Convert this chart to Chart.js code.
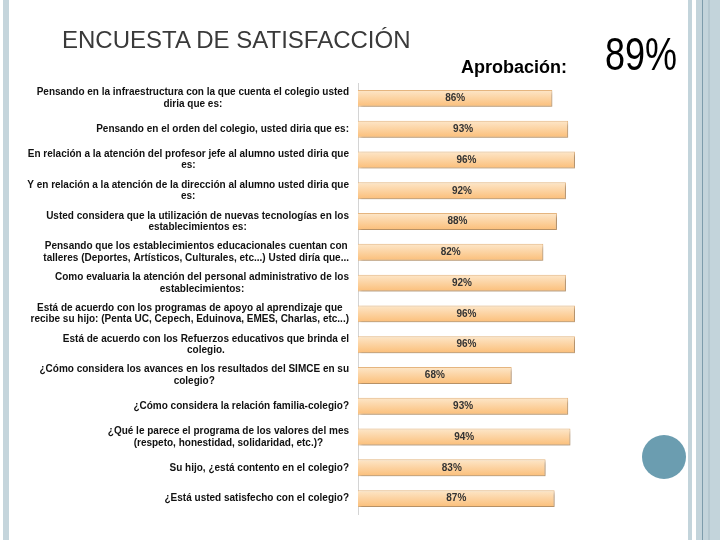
<!DOCTYPE html>
<html>
<head>
<meta charset="utf-8">
<script src="https://cdn.jsdelivr.net/npm/chart.js@4"></script>
<style>
  html, body { margin:0; padding:0; background:#fff; }
  #wrap { position:relative; width:720px; height:540px; overflow:hidden; background:#fff; }
  #c { position:absolute; left:0; top:0; }
  .deco { position:absolute; top:0; height:540px; }
  .txt { position:absolute; white-space:nowrap; font-family:"Liberation Sans", Arial, sans-serif; }
</style>
</head>
<body>
<div id="wrap">
  <div class="deco" style="left:3px;width:6px;background:#c5d5dc;"></div>
  <div class="deco" style="left:688px;width:4px;background:#c3d4db;"></div>
  <div class="deco" style="left:696px;width:24px;background:#c3d4db;"></div>
  <div class="deco" style="left:702px;width:1px;background:#7d9cab;"></div>
  <div class="deco" style="left:708px;width:2px;background:#b5c8d0;"></div>
  <div style="position:absolute;left:642px;top:435px;width:44px;height:44px;border-radius:50%;background:#6b9db0;"></div>
  <canvas id="c" width="720" height="540"></canvas>
  <div class="txt" id="title" style="left:62px;top:26px;font-size:24px;color:#3a3a3a;">ENCUESTA DE SATISFACCIÓN</div>
  <div class="txt" id="aprob" style="left:461px;top:57px;font-size:18px;font-weight:bold;color:#000;">Aprobación:</div>
  <div class="txt" id="total" style="left:605px;top:27px;font-size:36px;color:#000;transform:scaleY(1.3);transform-origin:0 0;">89%</div>
</div>
<script>
const categories = [
  ["Pensando en la infraestructura con la que cuenta el colegio usted", "diria que es:"],
  ["Pensando en el orden del colegio, usted diria que es:"],
  ["En relación a la atención del profesor jefe al alumno usted diria que", "es:"],
  ["Y en relación a la atención de la dirección al alumno usted diria que", "es:"],
  ["Usted considera que la utilización de nuevas tecnologías en los", "establecimientos es:"],
  ["Pensando que los establecimientos educacionales cuentan con", "talleres (Deportes, Artísticos, Culturales, etc...) Usted diría que..."],
  ["Como evaluaria la atención del personal administrativo de los", "establecimientos:"],
  ["Está de acuerdo con los programas de apoyo al aprendizaje que", "recibe su hijo: (Penta UC, Cepech, Eduinova, EMES, Charlas, etc...)"],
  ["Está de acuerdo con los Refuerzos educativos que brinda el", "colegio."],
  ["¿Cómo considera los avances en los resultados del SIMCE en su", "colegio?"],
  ["¿Cómo considera la relación familia-colegio?"],
  ["¿Qué le parece el programa de los valores del mes", "(respeto, honestidad, solidaridad, etc.)?"],
  ["Su hijo, ¿está contento en el colegio?"],
  ["¿Está usted satisfecho con el colegio?"]
];
const approval = [86, 93, 96, 92, 88, 82, 92, 96, 96, 68, 93, 94, 83, 87];
const axisMax = 100;

const FONT = '"Liberation Sans", Arial, sans-serif';

const labelPlugin = {
  id: 'labels',
  afterDraw(chart) {
    const ctx = chart.ctx;
    const ys = chart.scales.y;
    const xs = chart.scales.x;
    const right = ys.right - 9;
    ctx.save();
    ctx.font = 'bold 10px ' + FONT;
    ctx.fillStyle = '#111';
    ctx.textBaseline = 'middle';
    ctx.textAlign = 'center';
    categories.forEach((lines, i) => {
      const cy = ys.getPixelForTick(i);
      const w = Math.max(...lines.map(l => ctx.measureText(l).width));
      const cx = right - w / 2;
      const lh = 11.5;
      const y0 = cy - (lines.length - 1) * lh / 2;
      lines.forEach((l, k) => ctx.fillText(l, cx, y0 + k * lh));
    });
    // value labels
    ctx.font = 'bold 10px ' + FONT;
    ctx.fillStyle = '#333';
    const meta = chart.getDatasetMeta(0);
    meta.data.forEach((bar, i) => {
      const x0 = xs.getPixelForValue(0);
      ctx.fillText(approval[i] + '%', (x0 + bar.x) / 2, bar.y);
    });
    ctx.restore();
  }
};

const shadowPlugin = {
  id: 'shadow',
  beforeDatasetsDraw(chart) {
    const ctx = chart.ctx;
    ctx.save();
    ctx.shadowColor = 'rgba(0,0,0,0.28)';
    ctx.shadowBlur = 3;
    ctx.shadowOffsetX = 2;
    ctx.shadowOffsetY = 2;
  },
  afterDatasetsDraw(chart) {
    chart.ctx.restore();
  }
};

new Chart(document.getElementById('c'), {
  type: 'bar',
  data: {
    labels: categories,
    datasets: [{
      data: approval,
      backgroundColor: (c) => {
        const chart = c.chart;
        const ys = chart.scales && chart.scales.y;
        if (!ys || !chart.chartArea) return '#fcca90';
        const cy = ys.getPixelForValue(c.dataIndex);
        const g = chart.ctx.createLinearGradient(0, cy - 9, 0, cy + 9);
        g.addColorStop(0, '#fde8cc');
        g.addColorStop(1, '#fbbd76');
        return g;
      },
      borderColor: '#e6b680',
      borderWidth: 1,
      barPercentage: 0.55,
      categoryPercentage: 1
    }]
  },
  options: {
    indexAxis: 'y',
    responsive: false,
    animation: false,
    devicePixelRatio: 1,
    layout: { padding: { left: 20, right: 136, top: 83, bottom: 26 } },
    plugins: { legend: { display: false }, tooltip: { enabled: false } },
    scales: {
      x: { min: 0, max: axisMax, display: false },
      y: {
        grid: { display: false },
        border: { display: true, color: '#d4d4d4', width: 1 },
        ticks: { display: false },
        afterFit: (s) => { s.width = 338; }
      }
    }
  },
  plugins: [shadowPlugin, labelPlugin]
});
</script>
</body>
</html>
